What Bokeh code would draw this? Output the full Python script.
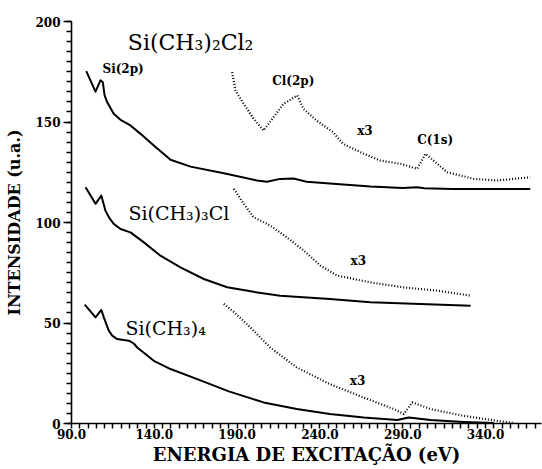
from bokeh.plotting import figure
from bokeh.models import FixedTicker, SingleIntervalTicker, CustomJSTickFormatter, ColumnDataSource
from bokeh.core.properties import value
from bokeh.embed import file_html
from bokeh.resources import INLINE

# ---- data ----
# Si(CH3)4, solid
e_tm = [98, 104.5, 108, 109.5, 112.5, 114.6, 117.6, 121.6, 124.6, 127.6, 129.7, 139.7, 149.8,
        165.9, 185, 206, 226, 246, 266.5, 286.7, 293.7, 306.8, 326.9, 345]
i_tm = [59.1, 52.8, 56.5, 52.8, 46.2, 43.7, 42.0, 41.5, 41.2, 39.8, 37.8, 31.2, 27.1,
        22.1, 16.0, 10.5, 7.2, 4.7, 3.0, 1.7, 3.0, 1.7, 0.8, 0.3]
# Si(CH3)4, x3 dotted
e_tm3 = [182, 188, 198, 210, 226, 246, 266.5, 284.6, 290.7, 295.7, 306.8, 326.9, 347, 357]
i_tm3 = [59.5, 55.5, 47.8, 37.8, 27.9, 19.6, 12.9, 7.2, 4.7, 10.5, 7.2, 3.8, 1.3, 0.3]

# Si(CH3)3Cl, solid
e_cl1 = [98.5, 104.5, 108, 110.5, 113, 115.5, 119.6, 125.6, 133.7, 143.7, 155.8, 169.9, 184,
         200, 216, 246, 270.5, 300.7, 331]
i_cl1 = [117.5, 109.3, 113.4, 105.9, 102.0, 99.3, 96.8, 95.1, 90.1, 83.5, 77.7, 71.9, 67.8,
         65.5, 63.6, 62.0, 60.3, 59.5, 58.6]
# Si(CH3)3Cl, x3 dotted
e_cl1x3 = [188, 194, 200, 210, 220, 230.3, 240.4, 250.4, 270.5, 290.7, 310.8, 331]
i_cl1x3 = [116.7, 109.3, 102.6, 98.5, 92.6, 86.0, 78.5, 73.6, 70.2, 67.7, 66.1, 63.6]

# Si(CH3)2Cl2, solid
e_cl2 = [98.9, 104.5, 107.5, 108.9, 110, 111.5, 115.5, 119.6, 125.6, 131.7, 139.7, 149.8,
         161.9, 182, 202, 208, 216, 224, 232, 248, 270.5, 290, 298.7, 303, 320, 345, 367]
i_cl2 = [175.3, 165.1, 170.7, 169.8, 163.2, 159.9, 154.1, 151.1, 148.3, 144.1, 138.3, 131.2,
         127.8, 124.5, 120.9, 120.3, 121.7, 121.9, 120.3, 119.3, 117.9, 117.2, 117.5, 117.0,
         116.7, 116.7, 116.7]
# Si(CH3)2Cl2, x3 dotted
e_cl2x3 = [187, 189, 194, 200, 206, 212, 218, 226.3, 230, 238, 248, 254, 266.5, 276.6,
           288.7, 298.7, 303.8, 316.9, 333, 347, 367]
i_cl2x3 = [174.8, 165.7, 159.0, 151.6, 145.8, 152.4, 159.0, 163.2, 156.6, 150.7, 144.9, 139.1,
           134.2, 130.8, 129.2, 126.7, 134.2, 125.0, 121.7, 120.9, 122.5]

x_ticks = [90, 140, 190, 240, 290, 340]
y_ticks = [0, 50, 100, 150, 200]

# labels
big_labels = ["Si(CH\u2083)\u2082Cl\u2082", "Si(CH\u2083)\u2083Cl", "Si(CH\u2083)\u2084"]
big_x = [124.0, 124.4, 122.6]
big_y = [189.6, 104.8, 47.7]
big_size = ["22px", "19px", "19px"]
small_labels = ["Si(2p)", "Cl(2p)", "C(1s)", "x3", "x3", "x3"]
small_x = [108.7, 211.2, 298.7, 262.5, 258.5, 258.0]
small_y = [176.5, 170.5, 141.0, 145.5, 80.8, 21.0]

p = figure(width=542, height=469, x_range=(90, 373.8), y_range=(0, 200),
           output_backend="svg", toolbar_location=None,
           min_border_left=71, min_border_right=1, min_border_top=21, min_border_bottom=46)
p.outline_line_color = None
p.grid.visible = False
p.background_fill_color = "white"

serif = "DejaVu Serif"

# x: a tick every 5 eV, labels only on the main ones
p.xaxis.ticker = FixedTicker(ticks=list(range(x_ticks[0], 374, 5)))
p.xaxis.formatter = CustomJSTickFormatter(args=dict(labels=x_ticks),
                                          code="return labels.includes(tick) ? tick.toFixed(1) : '';")
p.yaxis.ticker = SingleIntervalTicker(interval=50, num_minor_ticks=10)

for ax in (p.xaxis[0], p.yaxis[0]):
    ax.axis_line_color = "black"
    ax.axis_line_width = 1.6
    ax.major_tick_line_color = "black"
    ax.minor_tick_line_color = "black"
    ax.major_tick_line_width = 1.5
    ax.minor_tick_line_width = 1.4
    ax.major_tick_in = 0
    ax.minor_tick_in = 0
    ax.major_label_text_font = serif
    ax.major_label_text_font_style = "bold"
    ax.major_label_text_font_size = "12px"
    ax.major_label_text_color = "black"
    ax.axis_label_text_font = serif
    ax.axis_label_text_font_style = "bold"
    ax.axis_label_text_color = "black"

p.xaxis.major_tick_out = 5
p.xaxis.major_label_standoff = 0
p.xaxis.axis_label = "ENERGIA DE EXCITAÇÃO (eV)"
p.xaxis.axis_label_text_font_size = "18px"
p.xaxis.axis_label_standoff = 2

p.yaxis.major_tick_out = 8
p.yaxis.minor_tick_out = 5
p.yaxis.major_label_standoff = 3
p.yaxis.axis_label = "INTENSIDADE (u.a.)"
p.yaxis.axis_label_text_font_size = "16px"
p.yaxis.axis_label_standoff = 8

# solid spectra
for xs, ys in ((e_tm, i_tm), (e_cl1, i_cl1), (e_cl2, i_cl2)):
    p.line(xs, ys, line_color="black", line_width=2.0, line_join="round")
# x3 dotted spectra
for xs, ys in ((e_tm3, i_tm3), (e_cl1x3, i_cl1x3), (e_cl2x3, i_cl2x3)):
    p.line(xs, ys, line_color="black", line_width=2.2, line_dash="1 2")

src_big = ColumnDataSource(dict(x=big_x, y=big_y, t=big_labels, s=big_size))
p.text(x="x", y="y", text="t", source=src_big, text_font=value(serif),
       text_font_size="s", text_color="black", text_baseline="alphabetic", text_align="left")
src_small = ColumnDataSource(dict(x=small_x, y=small_y, t=small_labels))
p.text(x="x", y="y", text="t", source=src_small, text_font=value(serif),
       text_font_style="bold", text_font_size="12px", text_color="black",
       text_baseline="alphabetic", text_align="left")

open("out.html", "w").write(file_html(p, INLINE))
